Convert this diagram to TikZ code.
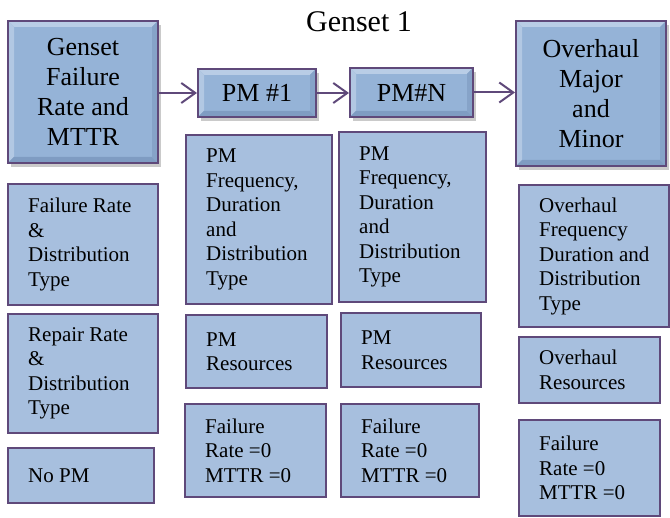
\documentclass[tikz,border=0pt]{standalone}
\usepackage{fontspec}
\setmainfont{Liberation Serif}
\usetikzlibrary{arrows.meta,shadows}
\definecolor{bord}{HTML}{5F497A}
\definecolor{hfill}{HTML}{95B3D7}
\definecolor{lfill}{HTML}{A7BFDE}
\definecolor{bevlight}{HTML}{B9CDE6}
\definecolor{bevdark}{HTML}{7F9CC2}
\tikzset{
  hbox/.style={draw=bord, line width=2pt, fill=hfill, inner sep=0pt,
    drop shadow={shadow xshift=3pt, shadow yshift=-4pt, opacity=0.35, fill=black!60},
    path picture={
      \fill[bevlight] (path picture bounding box.north west) -- (path picture bounding box.north east)
        -- ([xshift=-6pt,yshift=-6pt]path picture bounding box.north east)
        -- ([xshift=6pt,yshift=-6pt]path picture bounding box.north west) -- cycle;
      \fill[bevlight!80!hfill] (path picture bounding box.north west) -- (path picture bounding box.south west)
        -- ([xshift=6pt,yshift=6pt]path picture bounding box.south west)
        -- ([xshift=6pt,yshift=-6pt]path picture bounding box.north west) -- cycle;
      \fill[bevdark] (path picture bounding box.south west) -- (path picture bounding box.south east)
        -- ([xshift=-6pt,yshift=6pt]path picture bounding box.south east)
        -- ([xshift=6pt,yshift=6pt]path picture bounding box.south west) -- cycle;
      \fill[bevdark!70!hfill] (path picture bounding box.north east) -- (path picture bounding box.south east)
        -- ([xshift=-6pt,yshift=6pt]path picture bounding box.south east)
        -- ([xshift=-6pt,yshift=-6pt]path picture bounding box.north east) -- cycle;
    }},
  htext/.style={align=center, inner sep=0pt, font=\fontsize{26}{30}\selectfont},
  lbox/.style={draw=bord, line width=2pt, fill=lfill, inner sep=0pt},
  ltext/.style={anchor=west, xshift=21pt, align=left, inner sep=0pt, font=\fontsize{21}{24.5}\selectfont},
  conn/.style={draw=bord, line width=2pt, -{Straight Barb[length=14pt,width=20pt,line width=2pt]}}
}
\begin{document}
\begin{tikzpicture}[x=1pt,y=-1pt]
\useasboundingbox (0,0) rectangle (670,518);
% title
\node[anchor=base, inner sep=0pt, font=\fontsize{30}{34}\selectfont] (title) at (359,32) {Genset 1};
% header boxes
\node[hbox, minimum width=150pt, minimum height=142pt] (gen) at (83,92) {};
\node[htext] (gent) at (gen) {Genset\\Failure\\Rate and\\MTTR};
\node[hbox, minimum width=118pt, minimum height=48pt] (pm1) at (257,93) {};
\node[htext] (pm1t) at (pm1) {PM \#1};
\node[hbox, minimum width=123pt, minimum height=49pt] (pmn) at (411.5,92.5) {};
\node[htext] (pmnt) at (pmn) {PM\#N};
\node[hbox, minimum width=150pt, minimum height=145pt] (ovh) at (591,93.5) {};
\node[htext] (ovht) at (ovh) {Overhaul\\Major\\and\\Minor};
% connectors
\draw[conn] (gen.east |- pm1.west) -- (pm1.west);
\draw[conn] (pm1.east) -- (pm1.east -| pmn.west);
\draw[conn] (pmn.east) -- (pmn.east -| ovh.west);
% column 1
\node[lbox, minimum width=150pt, minimum height=121pt] (fr) at (83,244.5) {};
\node[ltext] (frt) at (fr.west) {Failure Rate\\\&\\Distribution\\Type};
\node[lbox, minimum width=150pt, minimum height=119pt] (rr) at (83,373.5) {};
\node[ltext] (rrt) at (rr.west) {Repair Rate\\\&\\Distribution\\Type};
\node[lbox, minimum width=146pt, minimum height=55pt] (npm) at (81,475.5) {};
\node[ltext] (npmt) at (npm.west) {No PM};
% column 2
\node[lbox, minimum width=146pt, minimum height=169pt] (pf1) at (259,219.5) {};
\node[ltext] (pf1t) at (pf1.west) {PM\\Frequency,\\Duration\\and\\Distribution\\Type};
\node[lbox, minimum width=141pt, minimum height=73pt] (pr1) at (256.5,351.5) {};
\node[ltext] (pr1t) at (pr1.west) {PM\\Resources};
\node[lbox, minimum width=141pt, minimum height=93pt] (f1) at (255.5,450.5) {};
\node[ltext] (f1t) at (f1.west) {Failure\\Rate =0\\MTTR =0};
% column 3
\node[lbox, minimum width=147pt, minimum height=170pt] (pf2) at (412.5,217) {};
\node[ltext] (pf2t) at (pf2.west) {PM\\Frequency,\\Duration\\and\\Distribution\\Type};
\node[lbox, minimum width=140pt, minimum height=74pt] (pr2) at (411,350) {};
\node[ltext] (pr2t) at (pr2.west) {PM\\Resources};
\node[lbox, minimum width=138pt, minimum height=93pt] (f2) at (410,450.5) {};
\node[ltext] (f2t) at (f2.west) {Failure\\Rate =0\\MTTR =0};
% column 4
\node[lbox, minimum width=150pt, minimum height=142pt] (of) at (594,256) {};
\node[ltext] (oft) at (of.west) {Overhaul\\Frequency\\Duration and\\Distribution\\Type};
\node[lbox, minimum width=141pt, minimum height=66pt] (or) at (589.5,370) {};
\node[ltext] (ort) at (or.west) {Overhaul\\Resources};
\node[lbox, minimum width=141pt, minimum height=96pt] (f3) at (589.5,468) {};
\node[ltext] (f3t) at (f3.west) {Failure\\Rate =0\\MTTR =0};
\end{tikzpicture}
\end{document}
